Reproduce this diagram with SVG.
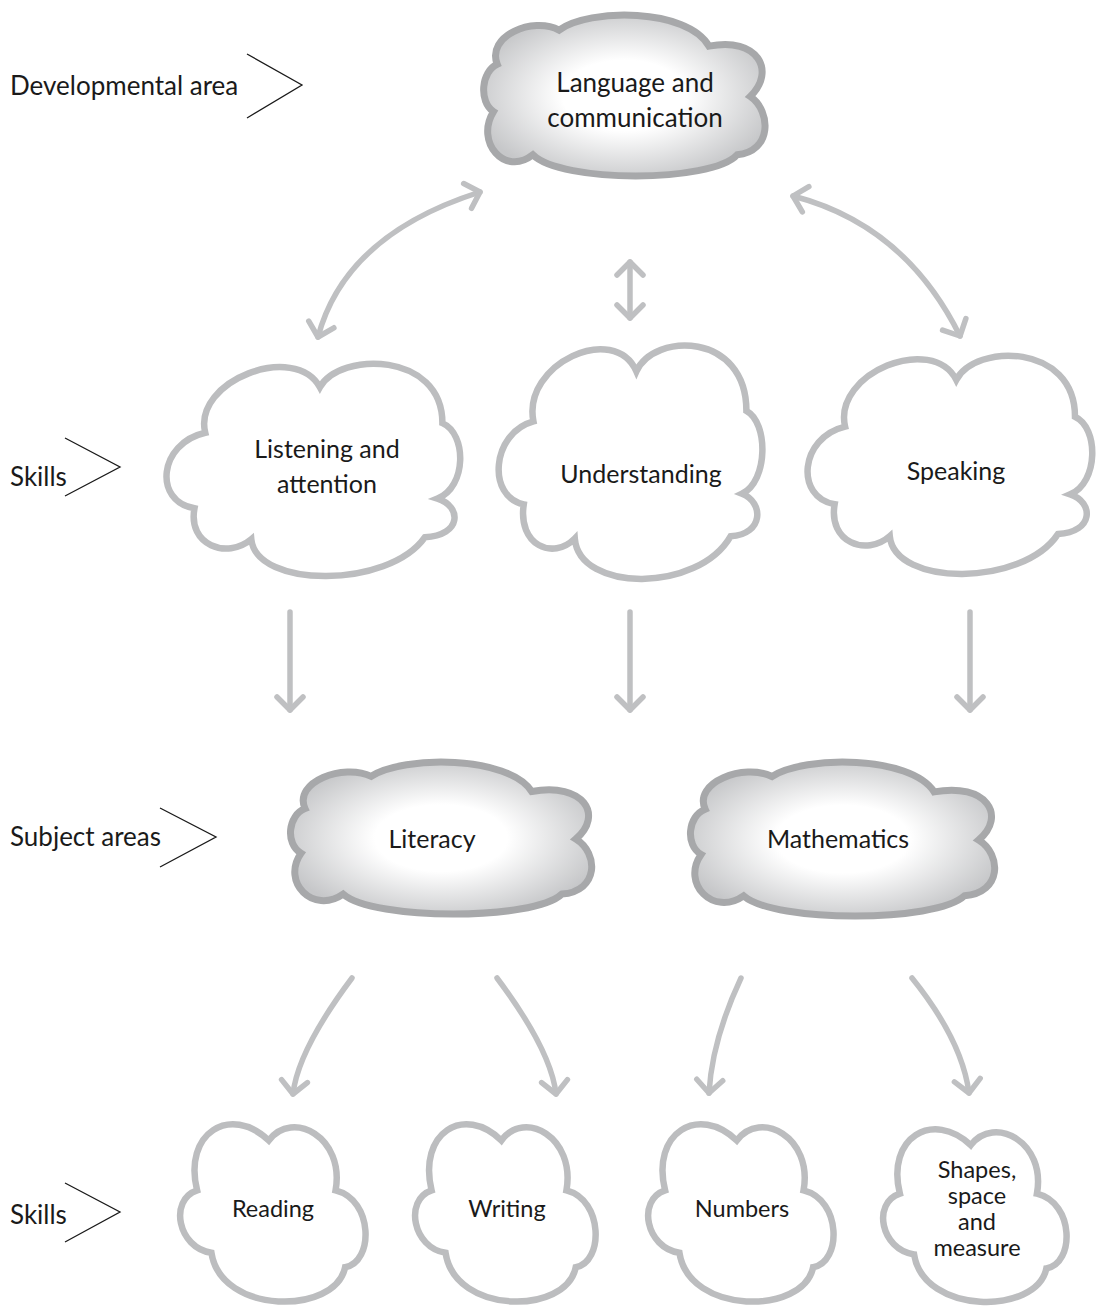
<svg xmlns="http://www.w3.org/2000/svg" xmlns:xlink="http://www.w3.org/1999/xlink" width="1110" height="1306" viewBox="0 0 1110 1306">
<style>
  text { font-family: Lato, "Liberation Sans", sans-serif; fill: #1a1a1a; text-anchor: middle; }
  .lbl { text-anchor: start; font-size: 26px; }
  .t26 { font-size: 26px; }
  .t25 { font-size: 25px; }
  .t22 { font-size: 23.5px; }
  .cloudG { fill: url(#grad); stroke: #a7a8aa; stroke-width: 7; }
  .cloudW { fill: #ffffff; stroke: #bcbdbf; stroke-width: 6.5; }
  .chev { fill: none; stroke: #1a1a1a; stroke-width: 1.3; }
  .arr { fill: none; stroke: #bfc0c2; stroke-width: 5.5; stroke-linecap: round; marker-end: url(#head); }
  .arr2 { marker-start: url(#head); }
</style>
<defs>
  <radialGradient id="grad" cx="0.5" cy="0.5" r="0.55">
    <stop offset="0.4" stop-color="#ffffff"/>
    <stop offset="1" stop-color="#c6c7c9"/>
  </radialGradient>
  <marker id="head" markerUnits="userSpaceOnUse" viewBox="-20 -20 30 40" markerWidth="30" markerHeight="40" refX="0" refY="0" orient="auto-start-reverse">
    <path d="M -13 -13 L 0 0 L -13 13" fill="none" stroke="#bfc0c2" stroke-width="5.5" stroke-linecap="round" stroke-linejoin="round"/>
  </marker>
  <path id="tplA" vector-effect="non-scaling-stroke" d="M 12 48 C 0 20 50 0 78 14 C 110 -8 215 -8 238 30 C 290 20 310 55 282 80 C 305 95 305 135 268 138 C 240 166 80 166 50 138 C 20 160 -12 125 8 95 C -8 85 -5 55 12 48 Z"/>
  <path id="tplB" vector-effect="non-scaling-stroke" d="M 38 69 C 25 15 130 -25 155 22 C 175 -15 280 -15 280 59 C 305 70 305 125 275 137 C 300 145 300 175 262 177 C 225 230 90 230 85 179 C 60 200 20 185 27 147 C -15 140 -10 80 38 69 Z"/>
  <path id="tplC" vector-effect="non-scaling-stroke" d="M 20 65 C 5 5 55 -25 95 13 C 120 -20 175 10 165 65 C 205 75 205 140 175 145 C 165 195 45 195 35 130 C 0 125 -10 75 20 65 Z"/>
</defs>

<g id="labels">
  <text class="lbl" x="10" y="95">Developmental area</text>
  <polyline class="chev" points="247,54 302,85 247,118"/>
  <text class="lbl" x="10" y="486">Skills</text>
  <polyline class="chev" points="65,438 120,467 65,496"/>
  <text class="lbl" x="10" y="846">Subject areas</text>
  <polyline class="chev" points="160,808 216,837 160,867"/>
  <text class="lbl" x="10" y="1224">Skills</text>
  <polyline class="chev" points="65,1183 120,1212 65,1242"/>
</g>

<g id="connectors">
  <path class="arr arr2" d="M 318 337 Q 345 235 480 192"/>
  <path class="arr arr2" d="M 630 262 L 630 318"/>
  <path class="arr arr2" d="M 960 336 Q 905 225 793 196"/>
  <path class="arr" d="M 290 612 L 290 710"/>
  <path class="arr" d="M 630 612 L 630 710"/>
  <path class="arr" d="M 970 612 L 970 710"/>
  <path class="arr" d="M 352 978 Q 298 1050 293 1094"/>
  <path class="arr" d="M 497 978 Q 551 1050 556 1094"/>
  <path class="arr" d="M 741 978 Q 712 1040 709 1093"/>
  <path class="arr" d="M 912 978 Q 962 1040 969 1093"/>
</g>

<g id="language">
  <use xlink:href="#tplA" href="#tplA" class="cloudG" transform="translate(486,16) scale(0.937,1.006)"/>
  <text class="t26" x="635" y="92">Language and</text>
  <text class="t26" x="635" y="127">communication</text>
</g>

<g id="listening">
  <use xlink:href="#tplB" href="#tplB" class="cloudW" transform="translate(168,366) scale(0.98,0.968)"/>
  <text class="t25" x="327" y="458">Listening and</text>
  <text class="t25" x="327" y="493">attention</text>
</g>
<g id="understanding">
  <use xlink:href="#tplB" href="#tplB" class="cloudW" transform="translate(500,348) scale(0.88,1.064)"/>
  <text class="t25" x="641" y="483">Understanding</text>
</g>
<g id="speaking">
  <use xlink:href="#tplB" href="#tplB" class="cloudW" transform="translate(809,358) scale(0.95,0.995)"/>
  <text class="t25" x="956" y="480">Speaking</text>
</g>

<g id="literacy">
  <use xlink:href="#tplA" href="#tplA" class="cloudG" transform="translate(293,763) scale(1.003,0.95)"/>
  <text class="t25" x="432" y="848">Literacy</text>
</g>
<g id="mathematics">
  <use xlink:href="#tplA" href="#tplA" class="cloudG" transform="translate(693,763) scale(1.013,0.9625)"/>
  <text class="t25" x="838" y="848">Mathematics</text>
</g>

<g id="reading">
  <use xlink:href="#tplC" href="#tplC" class="cloudW" transform="translate(178,1128) scale(0.955,0.96)"/>
  <text class="t22" x="273" y="1217">Reading</text>
</g>
<g id="writing">
  <use xlink:href="#tplC" href="#tplC" class="cloudW" transform="translate(413,1128) scale(0.93,0.96)"/>
  <text class="t22" x="507" y="1217">Writing</text>
</g>
<g id="numbers">
  <use xlink:href="#tplC" href="#tplC" class="cloudW" transform="translate(646,1128) scale(0.955,0.96)"/>
  <text class="t22" x="742" y="1217">Numbers</text>
</g>
<g id="shapes">
  <use xlink:href="#tplC" href="#tplC" class="cloudW" transform="translate(881,1133) scale(0.945,0.934)"/>
  <text class="t22" x="977" y="1178">Shapes,</text>
  <text class="t22" x="977" y="1204">space</text>
  <text class="t22" x="977" y="1230">and</text>
  <text class="t22" x="977" y="1256">measure</text>
</g>
</svg>
